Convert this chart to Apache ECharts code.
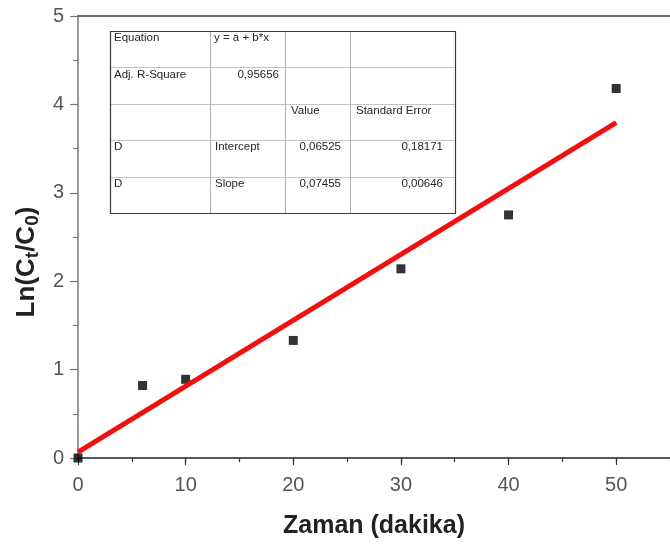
<!DOCTYPE html>
<html>
<head>
<meta charset="utf-8">
<script src="https://cdn.jsdelivr.net/npm/echarts@6/dist/echarts.min.js"></script>
<style>html,body{margin:0;padding:0;background:#fff}#c{width:670px;height:544px}</style>
</head>
<body>
<div id="c"></div>
<script>
// ---- data ----
const timeMin = [0, 6, 10, 20, 30, 40, 50];
const lnRatio = [0, 0.82, 0.89, 1.33, 2.14, 2.75, 4.18];
const fitIntercept = 0.06525;
const fitInterceptErr = 0.18171;
const fitSlope = 0.07455;
const fitSlopeErr = 0.00646;
const adjR2 = 0.95656;
const fitRange = [0, 50];
const xTickLabels = ['0', '10', '20', '30', '40', '50'];
const yTickLabels = ['0', '1', '2', '3', '4', '5'];

const fmt = v => v.toFixed(5).replace('.', ',');
const tableRows = [
  ['Equation', 'y = a + b*x', '', ''],
  ['Adj. R-Square', fmt(adjR2), '', ''],
  ['', '', 'Value', 'Standard Error'],
  ['D', 'Intercept', fmt(fitIntercept), fmt(fitInterceptErr)],
  ['D', 'Slope', fmt(fitSlope), fmt(fitSlopeErr)]
];

// ---- layout ----
const T = {x0: 110, y0: 31, cols: [110, 209.5, 285, 349.5, 455], rowH: 36.4};
const cellAnchor = [
  [['l', 114], ['l', 214], null, null],
  [['l', 114], ['r', 279], null, null],
  [null, null, ['l', 291], ['l', 356]],
  [['l', 114], ['l', 215], ['r', 341], ['r', 443]],
  [['l', 114], ['l', 215], ['r', 341], ['r', 443]]
];

const graphics = [];
const tblW = T.cols[4] - T.cols[0], tblH = T.rowH * tableRows.length;
for (let r = 1; r < tableRows.length; r++) {
  const y = Math.round(T.y0 + r * T.rowH) + 0.5;
  graphics.push({type: 'line', shape: {x1: T.cols[0], y1: y, x2: T.cols[4], y2: y}, style: {stroke: '#c4c4c4', lineWidth: 1}});
}
for (let c = 1; c < 4; c++) {
  const x = Math.round(T.cols[c]) + 0.5;
  graphics.push({type: 'line', shape: {x1: x, y1: T.y0, x2: x, y2: T.y0 + tblH}, style: {stroke: '#b4b4b4', lineWidth: 1}});
}
graphics.push({type: 'rect', shape: {x: T.cols[0] + 0.5, y: T.y0 + 0.5, width: tblW, height: tblH}, style: {fill: 'none', stroke: '#3a3a3a', lineWidth: 1.2}});
tableRows.forEach((row, r) => {
  row.forEach((txt, c) => {
    const a = cellAnchor[r][c];
    if (!txt || !a) return;
    graphics.push({type: 'text', x: a[1], y: T.y0 + r * T.rowH + 7,
      style: {text: txt, fill: '#262626', font: '11.5px "Liberation Sans", Arial, sans-serif',
        align: a[0] === 'l' ? 'left' : 'right', verticalAlign: 'middle'}});
  });
});
// y axis title
graphics.push({type: 'text', x: 27, y: 262, rotation: Math.PI / 2,
  style: {text: '{m|Ln(C}{s|t}{m|/C}{s|0}{m|)}', align: 'center', verticalAlign: 'middle',
    rich: {
      m: {fontSize: 26, fontWeight: 'bold', fontFamily: '"Liberation Sans", Arial, sans-serif', fill: '#222', lineHeight: 30, verticalAlign: 'middle'},
      s: {fontSize: 19, fontWeight: 'bold', fontFamily: '"Liberation Sans", Arial, sans-serif', fill: '#222', lineHeight: 19, verticalAlign: 'bottom'}
    }}});

const fitData = fitRange.map(x => [x, fitIntercept + fitSlope * x]);

const chart = echarts.init(document.getElementById('c'), null, {renderer: 'canvas'});
chart.setOption({
  animation: false,
  backgroundColor: '#fff',
  grid: {left: 78, width: 603, top: 16, height: 449},
  xAxis: [
    {type: 'value', min: 0, max: 55, interval: 10, position: 'bottom',
      axisLine: {show: true, lineStyle: {color: '#222', width: 1.5}},
      axisTick: {show: true, inside: false, length: 7, lineStyle: {color: '#333', width: 1.2}},
      axisLabel: {margin: 17, fontSize: 20, color: '#555', fontFamily: '"Liberation Sans", Arial, sans-serif',
        showMaxLabel: false, formatter: v => xTickLabels.includes(String(v)) ? String(v) : ''},
      splitLine: {show: false},
      name: 'Zaman (dakika)', nameLocation: 'middle', nameGap: 56,
      nameTextStyle: {fontSize: 25, fontWeight: 'bold', color: '#222', fontFamily: '"Liberation Sans", Arial, sans-serif'}},
    {type: 'value', min: 0, max: 55, interval: 5, position: 'bottom',
      axisLine: {show: false}, axisTick: {show: true, length: 4, lineStyle: {color: '#333', width: 1.2}},
      axisLabel: {show: false}, splitLine: {show: false}},
    {type: 'value', min: 0, max: 55, interval: 10, position: 'top',
      axisLine: {show: true, lineStyle: {color: '#444', width: 1.5}},
      axisTick: {show: false}, axisLabel: {show: false}, splitLine: {show: false}}
  ],
  yAxis: {type: 'value', min: 0, max: 5, interval: 1,
    axisLine: {show: true, lineStyle: {color: '#9a9a9a', width: 2}},
    axisTick: {show: true, length: 8, lineStyle: {color: '#777', width: 1.2}},
    minorTick: {show: true, splitNumber: 2, length: 5, lineStyle: {color: '#777', width: 1.2}},
    axisLabel: {margin: 14, fontSize: 20, color: '#555', fontFamily: '"Liberation Sans", Arial, sans-serif',
      formatter: v => yTickLabels.includes(String(v)) ? String(v) : ''},
    splitLine: {show: false}},
  series: [
    {type: 'scatter', xAxisIndex: 0, data: timeMin.map((x, i) => [x, lnRatio[i]]),
      symbol: 'rect', symbolSize: 9, itemStyle: {color: '#000'}, z: 2},
    {type: 'line', xAxisIndex: 0, data: fitData, showSymbol: false, symbol: 'none',
      lineStyle: {color: '#f01010', width: 5}, z: 3}
  ],
  graphic: graphics
});
</script>
</body>
</html>
